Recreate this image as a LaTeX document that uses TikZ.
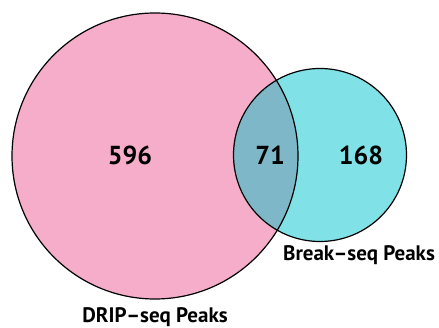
\documentclass[tikz,border=0pt]{standalone}
\usepackage{fontspec}
\setmainfont{PT Sans}
\definecolor{dripfill}{HTML}{F5ADC9}
\definecolor{breakfill}{HTML}{80E1E6}
\definecolor{bothfill}{HTML}{7EB8C8}
\begin{document}
\begin{tikzpicture}[x=1pt,y=-1pt,
  ring/.style={draw=black,line width=1.2pt},
  count/.style={font=\bfseries\fontsize{26}{30}\selectfont},
  setlabel/.style={font=\bfseries\fontsize{21}{25}\selectfont}]
  \useasboundingbox (0,0) rectangle (439,328);
  \coordinate (drip) at (155,156);
  \coordinate (brk) at (320,155);
  \fill[dripfill] (drip) circle (143);
  \fill[breakfill] (brk) circle (86.5);
  \begin{scope}
    \clip (drip) circle (143);
    \fill[bothfill] (brk) circle (86.5);
  \end{scope}
  \draw[ring] (drip) circle (143);
  \draw[ring] (brk) circle (86.5);
  \node[count] (n596) at (130,155) {596};
  \node[count] (n71) at (270,155) {71};
  \node[count] (n168) at (361,155) {168};
  \node[setlabel] (ldrip) at (155,317) {DRIP–seq Peaks};
  \node[setlabel] (lbrk) at (359,255) {Break–seq Peaks};
\end{tikzpicture}
\end{document}
